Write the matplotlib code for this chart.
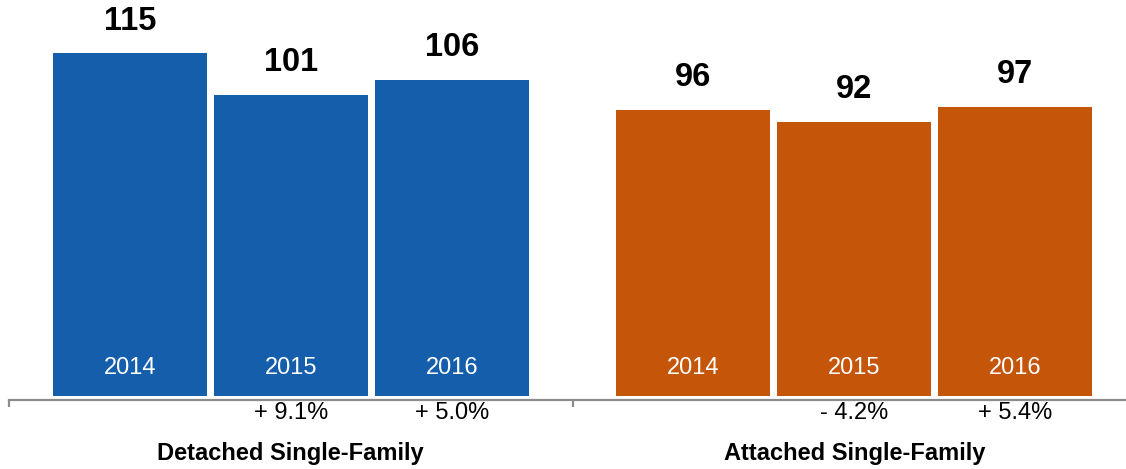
import matplotlib
matplotlib.use("Agg")
import matplotlib.pyplot as plt

plt.rcParams['font.family'] = ['Liberation Sans', 'DejaVu Sans']

groups = ["Detached Single-Family", "Attached Single-Family"]
years = ["2014", "2015", "2016"]
detached = [115, 101, 106]
attached = [96, 92, 97]
detached_change = ["", "+ 9.1%", "+ 5.0%"]
attached_change = ["", "- 4.2%", "+ 5.4%"]

colors = ["#145EAB", "#C55508"]

W, H = 1126, 469
fig = plt.figure(figsize=(W / 100, H / 100), dpi=100)
px_per_unit = 2.983
ax_left_px, ax_bottom_px = 9, 69
ax_w_px = 7 * 161
ax_h_px = H - ax_bottom_px
ax = fig.add_axes([ax_left_px / W, ax_bottom_px / H, ax_w_px / W, ax_h_px / H])

ymin = -4 / px_per_unit
ax.set_ylim(ymin, ymin + ax_h_px / px_per_unit)
ax.set_xlim(-0.75, 6.25)

series = [detached, attached]
changes = [detached_change, attached_change]
offsets = [0.0, 3.5]
for g, (vals, chg, off, col) in enumerate(zip(series, changes, offsets, colors)):
    xs = [off + i for i in range(len(vals))]
    ax.bar(xs, vals, width=0.957, color=col, linewidth=0)
    for x, v, yr, c in zip(xs, vals, years, chg):
        ax.annotate(str(v), (x, v), xytext=(0, 23), textcoords="offset points",
                    ha="center", va="center", fontsize=23.5, fontweight="bold", color="black")
        ax.annotate(yr, (x, 0), xytext=(0, 20), textcoords="offset points",
                    ha="center", va="center", fontsize=17, color="white")
        if c:
            ax.annotate(c, (x, 0), xytext=(0, -12.5), textcoords="offset points",
                        ha="center", va="center", fontsize=17, color="black",
                        annotation_clip=False)
    ax.annotate(groups[g], (off + 1, 0), xytext=(0, -41.5), textcoords="offset points",
                ha="center", va="center", fontsize=17, fontweight="bold", color="black",
                annotation_clip=False)

for s in ["top", "right", "left"]:
    ax.spines[s].set_visible(False)
ax.spines["bottom"].set_color("#8C8C8C")
ax.spines["bottom"].set_linewidth(1.6)
ax.set_yticks([])
ax.set_xticks([-0.75, 2.75, 6.25])
ax.set_xticklabels([])
ax.tick_params(axis="x", direction="out", length=5, width=1.6, color="#8C8C8C")

fig.savefig("out.png", dpi=100)
